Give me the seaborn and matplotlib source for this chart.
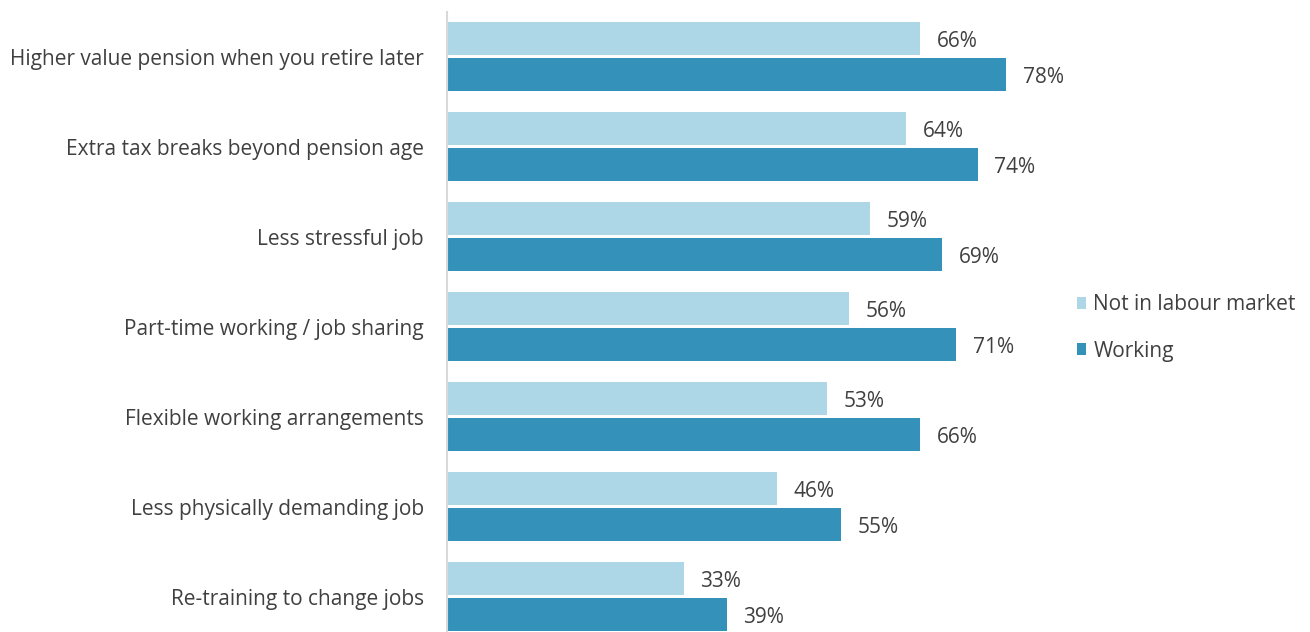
import matplotlib
matplotlib.use("Agg")
import matplotlib.pyplot as plt
import seaborn as sns
import pandas as pd

categories = [
    "Higher value pension when you retire later",
    "Extra tax breaks beyond pension age",
    "Less stressful job",
    "Part-time working / job sharing",
    "Flexible working arrangements",
    "Less physically demanding job",
    "Re-training to change jobs",
]
not_in_labour_market = [66, 64, 59, 56, 53, 46, 33]
working = [78, 74, 69, 71, 66, 55, 39]
series_names = ["Not in labour market", "Working"]
colors = ["#ADD6E7", "#3492BA"]
text_color = "#404040"

df = pd.DataFrame({
    "category": categories * 2,
    "value": not_in_labour_market + working,
    "series": [series_names[0]] * len(categories) + [series_names[1]] * len(categories),
})

sns.set_theme(style="white")
plt.rcParams["font.family"] = ["Open Sans", "DejaVu Sans"]

W, H, DPI = 1310, 632, 100
FS = 15
fig = plt.figure(figsize=(W / DPI, H / DPI), dpi=DPI)

# axes: zero line at x=447 px, 1 percentage point = 7.17 px, 90 px per category
x0_px, px_per_pt = 447, 7.17
xmax = 80
top_px = 11.5
bottom_ylim = (H - top_px) / 90 - 0.5
ax = fig.add_axes([x0_px / W, 0, xmax * px_per_pt / W, (H - top_px) / H])

sns.barplot(data=df, y="category", x="value", hue="series", orient="h",
            palette=colors, width=0.8, gap=0.08, saturation=1,
            linewidth=0, ax=ax)

ax.set_xlim(0, xmax)
ax.set_ylim(bottom_ylim, -0.5)
ax.set_xlabel("")
ax.set_ylabel("")
ax.set_xticks([])
for s in ["top", "right", "bottom"]:
    ax.spines[s].set_visible(False)
ax.spines["left"].set_color("#D9D9D9")
ax.spines["left"].set_linewidth(1.5)
ax.tick_params(axis="y", length=0, pad=16.5, labelsize=FS, labelcolor=text_color)

for cont in ax.containers:
    anns = ax.bar_label(cont, labels=[f"{int(v)}%" for v in cont.datavalues],
                        padding=12, fontsize=FS, color=text_color)
    for a in anns:
        dx, dy = a.xyann
        a.xyann = (dx, dy - 2.2)

sns.move_legend(ax, loc="center left", bbox_to_anchor=(1058 / W, 304 / H),
                bbox_transform=fig.transFigure, frameon=False, title=None,
                fontsize=FS, handlelength=0.45, handleheight=0.45,
                handletextpad=0.35, labelspacing=1.2)
for t in ax.get_legend().get_texts():
    t.set_color(text_color)

fig.savefig("out.png", dpi=DPI)
